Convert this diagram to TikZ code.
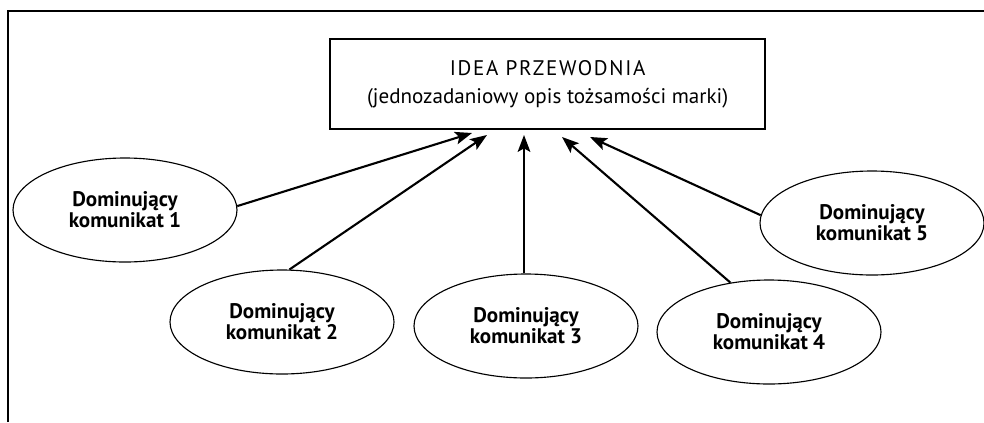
\documentclass[tikz,border=0pt]{standalone}
\usepackage{fontspec}
\setmainfont{PT Sans}
\usetikzlibrary{arrows.meta,shapes.geometric}

\tikzset{
  ideabox/.style={draw, line width=1.4pt, minimum width=10.875cm, minimum height=2.25cm,
    align=center, font=\fontsize{15}{20}\selectfont},
  msgnode/.style={draw, ellipse, line width=0.8pt, minimum width=5.6cm, minimum height=2.6cm,
    inner sep=0pt, align=center, font=\bfseries\fontsize{15}{15}\selectfont},
  feed/.style={-{Stealth[length=12pt,width=9pt,inset=2.5pt]}, line width=1.5pt},
}

\begin{document}
\begin{tikzpicture}
  \useasboundingbox (0,0) rectangle (24.6,10.55);
  % ---- frame ----
  \draw[line width=2.1pt] (0.2,0) -- (0.2,10.275) -- (24.6,10.275);
  % ---- main idea ----
  \node[ideabox] (idea) at (13.69,8.45)
    {{\addfontfeature{LetterSpace=8}IDEA PRZEWODNIA}\\(jednozadaniowy opis tożsamości marki)};
  % ---- dominant messages ----
  \node[msgnode] (msg1) at (3.125,5.3)  {Dominujący\\komunikat 1};
  \node[msgnode] (msg2) at (7.05,2.5)   {Dominujący\\komunikat 2};
  \node[msgnode] (msg3) at (13.15,2.4)  {Dominujący\\komunikat 3};
  \node[msgnode] (msg4) at (19.225,2.25) {Dominujący\\komunikat 4};
  \node[msgnode] (msg5) at (21.8,4.975)  {Dominujący\\komunikat 5};
  % ---- arrow tips under the box ----
  \coordinate (tip1) at (11.8,7.225);
  \coordinate (tip2) at (12.175,7.175);
  \coordinate (tip3) at (13.1,7.175);
  \coordinate (tip4) at (14.05,7.125);
  \coordinate (tip5) at (14.75,7.125);
  % ---- arrows ----
  \draw[feed] (msg1.2) -- (tip1);
  \draw[feed] (msg2.82) -- (tip2);
  \draw[feed] (msg3.north -| tip3) -- (tip3);
  \draw[feed] (msg4.128) -- (tip4);
  \draw[feed] (msg5.176) -- (tip5);
\end{tikzpicture}
\end{document}
